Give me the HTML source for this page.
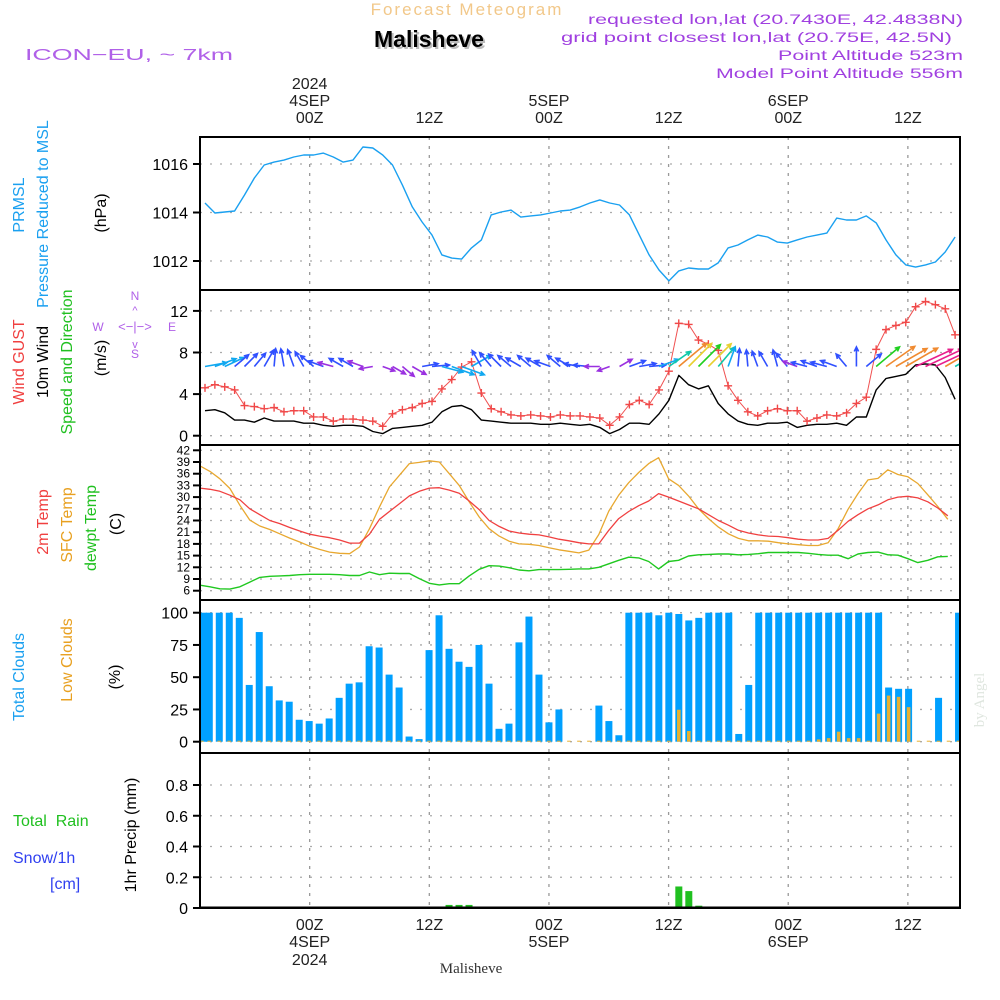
<!DOCTYPE html>
<html><head><meta charset="utf-8"><style>
html,body{margin:0;padding:0;background:#fff;}
svg{display:block;font-family:"Liberation Sans",sans-serif;}
</style></head><body>
<svg id="chart" width="1000" height="1000" viewBox="0 0 1000 1000" xmlns="http://www.w3.org/2000/svg">
<rect x="0" y="0" width="1000" height="1000" fill="#fff"/>
<g id="grid"></g>
<g id="marks"></g>
<g id="frame" fill="none" stroke="#000" stroke-width="2">
<rect x="200" y="137" width="760" height="771"/>
<line x1="200" y1="290" x2="960" y2="290"/>
<line x1="200" y1="445" x2="960" y2="445"/>
<line x1="200" y1="600" x2="960" y2="600"/>
<line x1="200" y1="753" x2="960" y2="753"/>
</g>
<g id="ticks" font-size="16" fill="#000" text-anchor="end"></g>
<g>
<text x="467" y="15" font-size="17" fill="#f2c88a" text-anchor="middle" letter-spacing="2">Forecast Meteogram</text>
<text x="431" y="49" font-size="23" font-weight="bold" fill="#bbb" text-anchor="middle">Malisheve</text>
<text x="429" y="47" font-size="23" font-weight="bold" fill="#000" text-anchor="middle">Malisheve</text>
<text x="25" y="60" font-size="16" fill="#b060e8" textLength="208" lengthAdjust="spacingAndGlyphs">ICON−EU, ~ 7km</text>
<g font-size="14" fill="#a040e0" text-anchor="end">
<text x="963" y="24" textLength="375" lengthAdjust="spacingAndGlyphs">requested lon,lat (20.7430E, 42.4838N)</text>
<text x="952" y="42" textLength="391" lengthAdjust="spacingAndGlyphs">grid point closest lon,lat (20.75E, 42.5N)</text>
<text x="963" y="60" textLength="185" lengthAdjust="spacingAndGlyphs">Point Altitude 523m</text>
<text x="963" y="78" textLength="247" lengthAdjust="spacingAndGlyphs">Model Point Altitude 556m</text>
</g>
</g>
<g id="timelabels" font-size="16" fill="#222" text-anchor="middle"></g>
<g font-size="16">
<text transform="translate(24,205) rotate(-90)" text-anchor="middle" fill="#1aa0f0">PRMSL</text>
<text transform="translate(48,214) rotate(-90)" text-anchor="middle" fill="#1aa0f0">Pressure Reduced to MSL</text>
<text transform="translate(106,213) rotate(-90)" text-anchor="middle" fill="#000">(hPa)</text>
<text transform="translate(24,362) rotate(-90)" text-anchor="middle" fill="#f04040">Wind GUST</text>
<text transform="translate(48,362) rotate(-90)" text-anchor="middle" fill="#000">10m Wind</text>
<text transform="translate(72,362) rotate(-90)" text-anchor="middle" fill="#20c020">Speed and Direction</text>
<text transform="translate(106,358) rotate(-90)" text-anchor="middle" fill="#000">(m/s)</text>
<g fill="#b060e8" font-size="12" text-anchor="middle">
<text x="135" y="300">N</text><text x="98" y="331">W</text><text x="172" y="331">E</text><text x="135" y="358">S</text>
<text x="135" y="331" font-size="13">&lt;−|−&gt;</text>
<text x="135" y="314" font-size="11">^</text><text x="135" y="348" font-size="11">v</text>
</g>
<text transform="translate(48,522) rotate(-90)" text-anchor="middle" fill="#f04040">2m Temp</text>
<text transform="translate(72,525) rotate(-90)" text-anchor="middle" fill="#e8a020">SFC Temp</text>
<text transform="translate(96,528) rotate(-90)" text-anchor="middle" fill="#20c020">dewpt Temp</text>
<text transform="translate(121,524) rotate(-90)" text-anchor="middle" fill="#000">(C)</text>
<text transform="translate(24,677) rotate(-90)" text-anchor="middle" fill="#1aa0f0">Total Clouds</text>
<text transform="translate(72,660) rotate(-90)" text-anchor="middle" fill="#e8a020">Low Clouds</text>
<text transform="translate(120,677) rotate(-90)" text-anchor="middle" fill="#000">(%)</text>
<text x="13" y="826" fill="#20c020" xml:space="preserve">Total  Rain</text>
<text x="13" y="863" fill="#3040f0">Snow/1h</text>
<text x="50" y="889" fill="#3040f0">[cm]</text>
<text transform="translate(136,835) rotate(-90)" text-anchor="middle" fill="#000">1hr Precip (mm)</text>
</g>
<text x="471" y="973" font-size="15" fill="#333" text-anchor="middle" font-family="Liberation Serif, serif">Malisheve</text>
<text transform="translate(984,700) rotate(-90)" font-size="15" fill="#dfe6df" text-anchor="middle" font-family="Liberation Serif, serif">by Angel</text>
</svg>
<script>
const pressure=[1014.39,1013.98,1014.02,1014.06,1014.72,1015.42,1015.96,1016.08,1016.16,1016.29,1016.37,1016.37,1016.45,1016.29,1016.08,1016.16,1016.70,1016.66,1016.37,1015.96,1015.13,1014.23,1013.61,1013.07,1012.25,1012.12,1012.08,1012.54,1012.87,1013.90,1014.02,1014.10,1013.81,1013.86,1013.90,1013.98,1014.06,1014.10,1014.23,1014.39,1014.52,1014.39,1014.31,1013.90,1013.07,1012.25,1011.63,1011.18,1011.59,1011.71,1011.67,1011.67,1011.92,1012.54,1012.66,1012.87,1013.07,1012.99,1012.78,1012.74,1012.87,1012.99,1013.07,1013.15,1013.77,1013.69,1013.69,1013.86,1013.57,1012.87,1012.25,1011.84,1011.75,1011.84,1011.96,1012.37,1012.99];
const gust=[4.6,4.9,4.7,4.4,2.9,2.8,2.6,2.7,2.3,2.4,2.4,1.8,1.8,1.4,1.6,1.6,1.5,1.4,0.9,2.1,2.5,2.7,3.1,3.3,4.5,5.4,6.6,7.1,4.1,2.6,2.3,2.0,1.9,2.0,1.9,1.8,2.0,1.9,1.9,1.8,1.7,1.0,1.8,3.0,3.4,3.0,4.4,6.2,10.8,10.7,9.2,8.8,8.2,4.8,3.4,2.3,1.9,2.4,2.6,2.4,2.4,1.4,1.7,2.0,1.9,2.2,3.1,3.7,8.3,10.2,10.6,10.9,12.4,12.9,12.6,12.2,9.7];
const wind=[2.4,2.5,2.2,1.5,1.5,1.3,1.7,1.4,1.4,1.4,1.2,1.2,1.0,0.9,1.0,1.0,0.9,0.4,0.2,0.7,0.8,0.9,1.0,1.3,2.3,2.8,2.9,2.5,1.5,1.4,1.3,1.2,1.2,1.2,1.1,1.1,1.2,1.1,1.0,1.1,0.8,0.2,0.6,1.2,1.2,1.1,2.1,3.4,5.8,4.9,4.5,4.8,3.1,2.1,1.4,1.1,1.0,1.2,1.2,1.3,0.8,1.0,1.1,1.1,1.2,1.0,1.8,1.8,4.4,5.5,5.7,5.9,6.8,6.9,6.8,5.6,3.5];
const windDir=[10,20,25,40,45,50,60,85,100,110,120,140,160,165,150,150,160,190,-20,-30,-40,-30,10,5,-15,-20,-20,30,120,130,135,140,150,140,150,160,140,150,170,175,180,200,30,20,10,5,20,35,40,45,45,45,50,70,85,95,110,120,105,130,160,165,160,165,160,130,90,40,40,35,30,30,25,25,25,30,30];
const temp2m=[32.3,32.0,31.5,30.5,29.3,27.0,25.5,24.0,23.2,22.2,21.3,20.5,20.0,19.6,19.0,18.2,18.2,20.5,24.3,26.3,28.3,30.3,31.5,32.3,32.4,31.8,31.0,29.0,26.8,24.0,22.5,21.3,20.8,20.5,20.3,19.8,19.2,18.8,18.3,18.0,18.0,21.5,24.5,26.3,27.8,29.0,30.9,30.0,29.0,28.0,27.0,25.5,24.0,22.8,21.5,20.8,20.3,20.0,19.9,19.6,19.2,19.0,19.0,19.4,21.5,23.8,25.5,27.0,28.0,29.3,30.0,30.2,29.8,28.8,27.2,25.2];
const tempSfc=[38.0,36.6,34.7,32.2,27.9,24.1,22.6,21.7,20.6,19.5,18.5,17.4,16.6,15.9,15.6,15.5,17.2,21.9,27.5,32.6,35.6,38.6,38.9,39.3,39.0,36.0,33.0,28.8,24.9,21.9,20.0,18.7,18.0,17.9,17.6,17.0,16.5,16.1,15.7,16.4,20.4,26.4,30.5,33.7,36.3,38.6,40.1,34.7,33.0,30.3,27.0,24.5,22.3,20.6,19.4,18.8,18.8,18.7,18.3,18.0,17.8,17.6,17.6,18.3,21.9,26.9,30.9,34.4,34.8,37.0,35.8,35.2,33.5,30.6,27.6,24.3];
const dewpt=[7.4,7.0,6.5,6.4,7.0,8.2,9.4,9.7,9.8,9.9,10.1,10.2,10.2,10.2,10.1,9.9,9.9,10.8,10.1,10.5,10.4,10.4,9.1,7.9,7.5,7.8,7.8,9.8,11.5,12.4,12.3,11.9,11.3,11.1,11.4,11.4,11.4,11.5,11.6,11.6,12.0,12.9,13.8,14.6,14.4,13.5,11.6,13.5,13.8,14.9,15.2,15.3,15.4,15.4,15.2,15.3,15.5,15.8,15.8,15.8,15.8,15.6,15.3,15.1,15.1,14.2,15.4,15.8,15.9,15.2,15.1,14.2,13.2,13.8,14.7,14.8];
const totalClouds=[100,100,100,100,96,44,85,43,32,31,17,16,14,18,34,45,46,74,73,52,42,4,2,71,98,72,62,58,75,45,10,14,77,97,52,15,25,0,0,0,28,16,5,100,100,100,98,100,99,94,96,100,100,100,6,44,100,100,100,100,100,100,100,100,100,100,100,100,100,42,41,41,0,0,34,0,100];
const lowClouds=[0,0,0,0,0,0,0,0,0,0,0,0,0,0,0,0,0,0,0,0,0,0,0,0,0,0,0,0,0,0,0,0,0,0,0,0,0,0,0,0,0,0,0,0,0,0,0,0,24,7.5,0,0,0,0,0,0,0,0,0,0,0,0,1,2,7,2,2,0,21,35,34,26,0,0,0,0,0];
const precip=[0,0,0,0,0,0,0,0,0,0,0,0,0,0,0,0,0,0,0,0,0,0,0,0,0,0.02,0.02,0.02,0,0,0,0,0,0,0,0,0,0,0,0,0,0,0,0,0,0,0.005,0,0.14,0.11,0.015,0,0,0,0,0,0,0,0,0,0,0,0,0,0,0,0,0,0,0,0,0,0,0,0,0,0];
const pressureTicks=[1016,1014,1012];
const windTicks=[12,8,4,0];
const tempTicks=[42,39,36,33,30,27,24,21,18,15,12,9,6];
const cloudTicks=[100,75,50,25,0];
const precipTicks=[0.8,0.6,0.4,0.2,0];
const timeTicksTop=[["2024","4SEP","00Z"],["","","12Z"],["","5SEP","00Z"],["","","12Z"],["","6SEP","00Z"],["","","12Z"]];
const timeTickHours=[11,23,35,47,59,71];

const NS="http://www.w3.org/2000/svg";
const xb=i=>199.3+9.99*i;
const xl=j=>205+9.87*j;
const xt=i=>200+9.97*i;
const xh=h=>200+9.97*h;
const yP=p=>164+(1016-p)*24.25;
const yW=v=>435.7-v*10.4;
const yT=t=>590.7-(t-6)*3.9;
const yC=c=>741.7-c*1.29;
const yR=r=>908-r*153.75;

function mk(tag,attrs,parent){const e=document.createElementNS(NS,tag);for(const k in attrs)e.setAttribute(k,attrs[k]);parent.appendChild(e);return e;}
const grid=document.getElementById('grid'),marks=document.getElementById('marks'),ticks=document.getElementById('ticks'),tl=document.getElementById('timelabels');

function hgrid(vals,yf,name){vals.forEach(v=>{const y=yf(v);
 const g=mk('line',{x1:200,x2:960,y1:y,y2:y,stroke:'#aaa','stroke-width':1.3,'stroke-dasharray':'2,8'},grid);
 
 
 const t=mk('line',{x1:193,x2:200,y1:y,y2:y,stroke:'#000','stroke-width':2},ticks);
 
 
 const lab=mk('text',{x:188,y:y+6},ticks);lab.textContent=String(v);
 
 
});}
hgrid(pressureTicks,yP,'pressure');
hgrid(windTicks,yW,'wind');
hgrid(cloudTicks,yC,'cloud');
hgrid(precipTicks,yR,'precip');
tempTicks.forEach(v=>{const y=yT(v);
 const g=mk('line',{x1:200,x2:960,y1:y,y2:y,stroke:'#aaa','stroke-width':1.3,'stroke-dasharray':'2,8'},grid);
 
 
 const t=mk('line',{x1:193,x2:200,y1:y,y2:y,stroke:'#000','stroke-width':2},ticks);
 
 
 const lab=mk('text',{x:190,y:y+4,'font-size':12},ticks);lab.textContent=String(v);
 
 
});
timeTickHours.forEach((h,k)=>{const x=xh(h);
 const g=mk('line',{x1:x,x2:x,y1:137,y2:908,stroke:'#999','stroke-width':1.3,'stroke-dasharray':'3,6'},grid);
 
 
 const lab=timeTicksTop[k];
 [lab[0],lab[1],lab[2]].forEach((s,r)=>{if(!s)return;const t=mk('text',{x:x,y:[89,106,123][r]},tl);t.textContent=s;
  
  });
 [lab[2],lab[1],lab[0]].forEach((s,r)=>{if(!s)return;const t=mk('text',{x:x,y:[930,947,965][r]},tl);t.textContent=s;
  
  });
});

function poly(vals,xf,yf,color,w,name){const pts=vals.map((v,i)=>xf(i).toFixed(1)+','+yf(v).toFixed(1)).join(' ');
 const p=mk('polyline',{points:pts,fill:'none',stroke:color,'stroke-width':w,'stroke-linejoin':'round'},marks);
 
 return p;}

poly(pressure,xl,yP,'#1aa0f0',1.4,'pressure-line');
totalClouds.forEach((c,i)=>{const x=xb(i);if(x>960)return;const y=yC(c);
 const r=mk('rect',{x:Math.max(200,x-3.5),y:y,width:Math.min(7,960-Math.max(200,x-3.5)),height:yC(0)-y,fill:'#00a0ff'},marks);
 
 });
lowClouds.forEach((c,i)=>{const x=xb(i);if(x>960)return;const y=yC(c);
 const r=mk('rect',{x:Math.max(200,x-1.8),y:y-1,width:3.6,height:yC(0)-y+1,fill:'#e8b030'},marks);
 
 });
precip.forEach((p,i)=>{const x=xb(i);const y=yR(p);
 const r=mk('rect',{x:x-3.5,y:y,width:7,height:Math.max(0.6,yR(0)-y),fill:'#20c020'},marks);
 
 });
mk('line',{x1:200,x2:960,y1:907,y2:907,stroke:'#000','stroke-width':1},marks);
poly(tempSfc,xt,yT,'#e8a830',1.3,'sfc-temp-line');
poly(temp2m,xt,yT,'#f04040',1.3,'temp-2m-line');
poly(dewpt,xt,yT,'#20c820',1.4,'dewpoint-line');
poly(wind,xl,yW,'#000',1.4,'wind-speed-line');
poly(gust,xl,yW,'#f05050',1,'gust-line');
gust.forEach((g,j)=>{const x=xl(j),y=yW(g);
 const p=mk('path',{d:`M${x-4},${y}h8M${x},${y-4}v8`,stroke:'#f04848','stroke-width':1.4,fill:'none'},marks);
 
 });
function wcol(s){if(s<1)return '#9a30e0';if(s<2)return '#3050ff';if(s<3)return '#10a8f0';if(s<4)return '#10c8a8';if(s<4.6)return '#20d020';if(s<5.2)return '#e8d030';if(s<6.5)return '#f08a30';return '#e8208c';}
windDir.forEach((d,j)=>{const s=wind[j];const x0=xl(j),y0=366.5;const L=12+s*4.2;const a=d*Math.PI/180;
 const x1=x0+L*Math.cos(a),y1=y0-L*Math.sin(a);const c=wcol(s);const h=5;
 const l1=a+Math.PI-0.45,l2=a+Math.PI+0.45;
 const p=mk('path',{d:`M${x0},${y0}L${x1},${y1}M${x1+h*Math.cos(l1)},${y1-h*Math.sin(l1)}L${x1},${y1}L${x1+h*Math.cos(l2)},${y1-h*Math.sin(l2)}`,stroke:c,'stroke-width':1.6,fill:'none'},marks);
 
 });
const cp=mk('clipPath',{id:'plotclip'},document.getElementById('chart'));
mk('rect',{x:200,y:137,width:760,height:771},cp);
marks.setAttribute('clip-path','url(#plotclip)');
</script>
</body></html>
